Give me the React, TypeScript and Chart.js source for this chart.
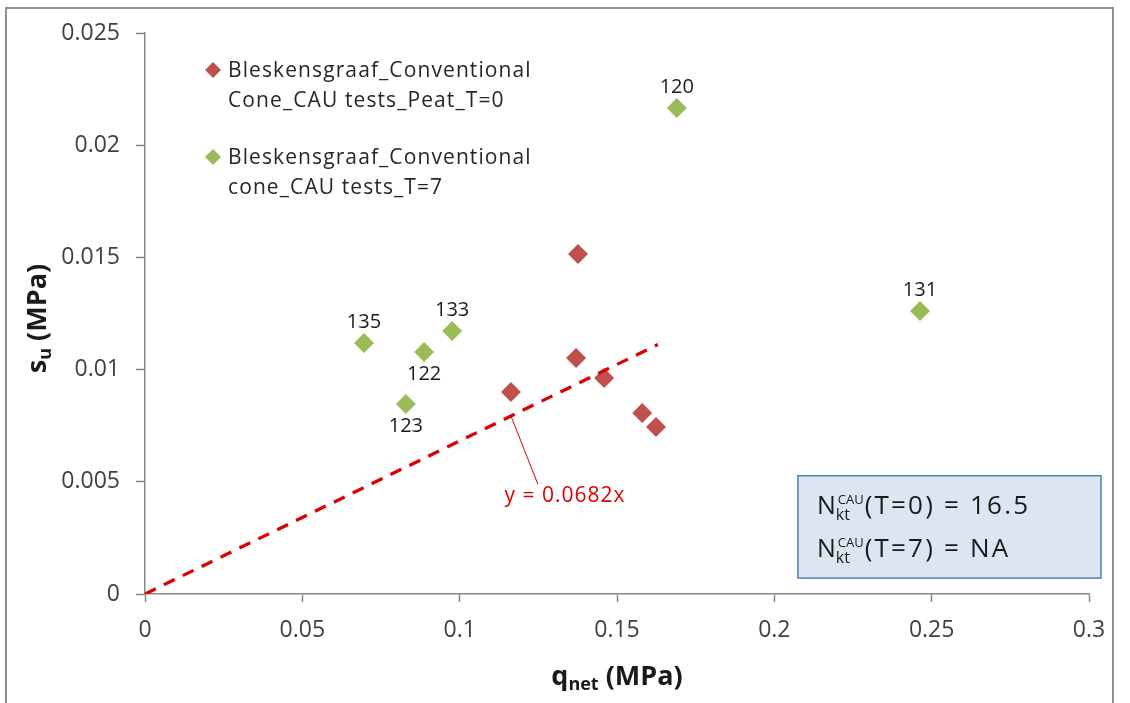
import React, { useEffect, useRef } from "react";
import { Chart, registerables } from "chart.js";

Chart.register(...registerables);

// ---- data ----
const peatQnet = [0.1376, 0.137, 0.1459, 0.1163, 0.158, 0.1624];
const peatSu = [0.01515, 0.01052, 0.00963, 0.009, 0.00807, 0.00744];
const t7Qnet = [0.169, 0.2463, 0.0696, 0.0976, 0.0887, 0.0829];
const t7Su = [0.02166, 0.01261, 0.01119, 0.01172, 0.01078, 0.00847];
const t7Labels = ["120", "131", "135", "133", "122", "123"];
const t7LabelSide = ["above", "above", "above", "above", "below", "below"];
const trendSlope = 0.0682;
const trendX = [0, 0.163];
const trendLabel = "y = 0.0682x";
const legendLines = [
  ["Bleskensgraaf_Conventional", "Cone_CAU tests_Peat_T=0"],
  ["Bleskensgraaf_Conventional", "cone_CAU tests_T=7"],
];
const boxRows = [["(T=0) = 16.5"], ["(T=7) = NA"]];

const RED = "#C0504D";
const GREEN = "#9BBB59";
const TREND = "#DD0000";
const AXIS = "#868686";
const FONT = "'Open Sans', sans-serif";

function diamond(ctx: CanvasRenderingContext2D, x: number, y: number, r: number, color: string) {
  ctx.beginPath();
  ctx.moveTo(x - r, y);
  ctx.lineTo(x, y - r);
  ctx.lineTo(x + r, y);
  ctx.lineTo(x, y + r);
  ctx.closePath();
  ctx.fillStyle = color;
  ctx.fill();
}

function setSpacing(ctx: any, px: number) {
  try {
    ctx.letterSpacing = `${px}px`;
  } catch (e) {
    /* ignore */
  }
}

type Run = { t: string; font: string; dy: number };
function runsWidth(ctx: CanvasRenderingContext2D, runs: Run[]) {
  let w = 0;
  for (const r of runs) {
    ctx.font = r.font;
    w += ctx.measureText(r.t).width;
  }
  return w;
}
function drawRuns(ctx: CanvasRenderingContext2D, x: number, y: number, runs: Run[]) {
  let cx = x;
  for (const r of runs) {
    ctx.font = r.font;
    ctx.fillText(r.t, cx, y + r.dy);
    cx += ctx.measureText(r.t).width;
  }
}

const overlayPlugin = {
  id: "overlay",
  afterDraw(chart: any) {
    const ctx: CanvasRenderingContext2D = chart.ctx;
    const xs = chart.scales.x;
    const ys = chart.scales.y;
    const ca = chart.chartArea;
    ctx.save();

    // outer frame
    ctx.strokeStyle = "#8f8f8f";
    ctx.lineWidth = 2;
    ctx.strokeRect(6, 8, 1107, 760);

    // data labels for T=7 points
    const meta = chart.getDatasetMeta(1);
    ctx.fillStyle = "#1a1a1a";
    ctx.font = `20px ${FONT}`;
    ctx.textAlign = "center";
    ctx.textBaseline = "middle";
    meta.data.forEach((pt: any, i: number) => {
      const off = t7LabelSide[i] === "above" ? -21 : 22;
      ctx.fillText(t7Labels[i], pt.x, pt.y + off);
    });

    // legend
    const lx = ca.left + 68;
    const rows = [
      { color: RED, y: 70 },
      { color: GREEN, y: 157 },
    ];
    ctx.textAlign = "left";
    ctx.textBaseline = "middle";
    ctx.font = `21px ${FONT}`;
    setSpacing(ctx, 1.1);
    rows.forEach((r, i) => {
      diamond(ctx, lx, r.y, 8, r.color);
      ctx.fillStyle = "#262626";
      ctx.fillText(legendLines[i][0], lx + 15, r.y + 1);
      ctx.fillText(legendLines[i][1], lx + 15, r.y + 31);
    });

    // trendline label with leader
    const ax = xs.getPixelForValue(0.1163);
    const ay = ys.getPixelForValue(trendSlope * 0.1163);
    const tx = xs.getPixelForValue(0.1335);
    const ty = ys.getPixelForValue(0.00435);
    ctx.strokeStyle = TREND;
    ctx.lineWidth = 1;
    ctx.beginPath();
    ctx.moveTo(ax, ay);
    ctx.lineTo(ax + 27, ty - 12);
    ctx.stroke();
    ctx.fillStyle = TREND;
    ctx.font = `21px ${FONT}`;
    setSpacing(ctx, 1);
    ctx.textAlign = "center";
    ctx.fillText(trendLabel, tx, ty);

    // info box
    setSpacing(ctx, 0);
    const bx0 = xs.getPixelForValue(0.2075);
    const bx1 = xs.getPixelForValue(0.3038);
    const by0 = ys.getPixelForValue(0.00527);
    const by1 = ys.getPixelForValue(0.00071);
    ctx.fillStyle = "#DCE6F2";
    ctx.fillRect(bx0, by0, bx1 - bx0, by1 - by0);
    ctx.strokeStyle = "#4F81BD";
    ctx.lineWidth = 1.5;
    ctx.strokeRect(bx0, by0, bx1 - bx0, by1 - by0);
    ctx.fillStyle = "#1a1a1a";
    ctx.textAlign = "left";
    ctx.textBaseline = "alphabetic";
    boxRows.forEach((row, i) => {
      const bl = by0 + 38 + i * 43;
      const x0 = bx0 + 19;
      setSpacing(ctx, 0);
      ctx.font = `25px ${FONT}`;
      ctx.fillText("N", x0, bl);
      const nw = ctx.measureText("N").width;
      ctx.font = `16px ${FONT}`;
      ctx.fillText("kt", x0 + nw, bl + 6);
      const kw = ctx.measureText("kt").width;
      ctx.font = `13px ${FONT}`;
      ctx.fillText("CAU", x0 + nw + 2, bl - 10);
      const cw = ctx.measureText("CAU").width;
      ctx.font = `26px ${FONT}`;
      setSpacing(ctx, 2.2);
      ctx.fillText(row[0], x0 + nw + Math.max(kw, cw + 2) + 1, bl);
    });
    setSpacing(ctx, 0);

    // x axis title
    const xr: Run[] = [
      { t: "q", font: `bold 27px ${FONT}`, dy: 0 },
      { t: "net", font: `bold 18px ${FONT}`, dy: 5 },
      { t: " (MPa)", font: `bold 27px ${FONT}`, dy: 0 },
    ];
    const xw = runsWidth(ctx, xr);
    ctx.fillStyle = "#1a1a1a";
    drawRuns(ctx, (ca.left + ca.right) / 2 - xw / 2, 685, xr);

    // y axis title
    const yr: Run[] = [
      { t: "s", font: `bold 27px ${FONT}`, dy: 0 },
      { t: "u", font: `bold 18px ${FONT}`, dy: 5 },
      { t: " (MPa)", font: `bold 27px ${FONT}`, dy: 0 },
    ];
    const yw = runsWidth(ctx, yr);
    ctx.translate(46, (ca.top + ca.bottom) / 2 + 5);
    ctx.rotate(-Math.PI / 2);
    drawRuns(ctx, -yw / 2, 0, yr);

    ctx.restore();
  },
};

export default function App() {
  const ref = useRef<HTMLCanvasElement | null>(null);
  useEffect(() => {
    if (!ref.current) return;
    const chart = new Chart(ref.current, {
      type: "scatter",
      data: {
        datasets: [
          {
            label: legendLines[0].join(" "),
            data: peatQnet.map((x, i) => ({ x, y: peatSu[i] })),
            pointStyle: "rectRot",
            pointRadius: 10,
            pointBackgroundColor: RED,
            pointBorderWidth: 0,
            borderColor: RED,
            backgroundColor: RED,
            order: 2,
          },
          {
            label: legendLines[1].join(" "),
            data: t7Qnet.map((x, i) => ({ x, y: t7Su[i] })),
            pointStyle: "rectRot",
            pointRadius: 10,
            pointBackgroundColor: GREEN,
            pointBorderWidth: 0,
            borderColor: GREEN,
            backgroundColor: GREEN,
            order: 1,
          },
          {
            label: "trend",
            data: trendX.map((x) => ({ x, y: trendSlope * x })),
            showLine: true,
            pointRadius: 0,
            borderColor: TREND,
            borderWidth: 3.3,
            borderDash: [12, 9],
            order: 0,
          } as any,
        ],
      },
      options: {
        responsive: false,
        animation: false,
        layout: { padding: { top: 33, right: 41, left: 0, bottom: 0 } },
        plugins: { legend: { display: false }, tooltip: { enabled: false } },
        scales: {
          x: {
            type: "linear",
            min: 0,
            max: 0.3,
            ticks: {
              stepSize: 0.05,
              padding: 15,
              color: "#404040",
              font: { family: FONT, size: 23 },
              callback: (v: any) => String(+Number(v).toFixed(4)),
            },
            grid: { drawOnChartArea: false, drawTicks: true, tickLength: 8, tickColor: AXIS, tickWidth: 1.5 },
            border: { display: true, color: AXIS, width: 1.5 },
            afterFit: (s: any) => {
              s.height = 109;
            },
          },
          y: {
            type: "linear",
            min: 0,
            max: 0.025,
            ticks: {
              stepSize: 0.005,
              padding: 16,
              color: "#404040",
              font: { family: FONT, size: 23 },
              callback: (v: any) => String(+Number(v).toFixed(4)),
            },
            grid: { drawOnChartArea: false, drawTicks: true, tickLength: 9, tickColor: AXIS, tickWidth: 1.5 },
            border: { display: true, color: AXIS, width: 1.5 },
            afterFit: (s: any) => {
              s.width = 145;
            },
          },
        },
      },
      plugins: [overlayPlugin],
    });
    return () => chart.destroy();
  }, []);
  return (
    <div style={{ position: "absolute", left: 0, top: 0, width: 1130, height: 703, background: "#fff" }}>
      <canvas ref={ref} width={1130} height={703} />
    </div>
  );
}
